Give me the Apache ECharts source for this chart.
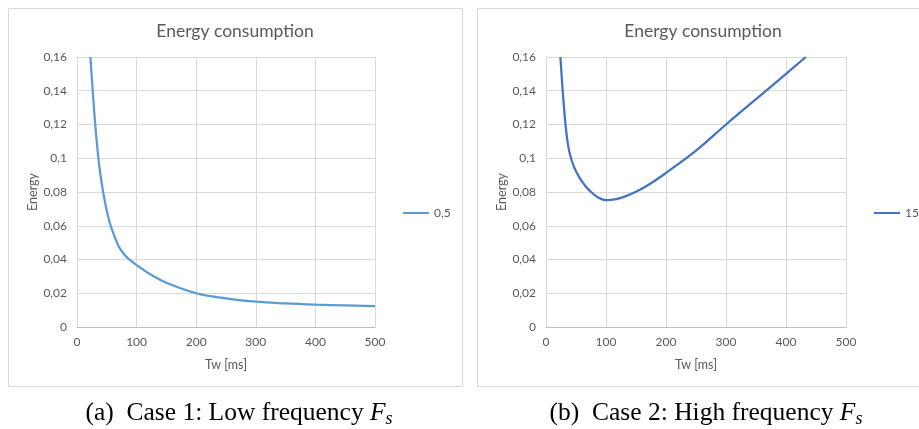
<!DOCTYPE html>
<html>
<head>
<meta charset="utf-8">
<script src="https://cdn.jsdelivr.net/npm/echarts@6/dist/echarts.min.js"></script>
<style>
  html, body { margin: 0; padding: 0; background: #fff; }
  #chart { width: 919px; height: 429px; }
</style>
</head>
<body>
<div id="chart"></div>
<script>
// case 1: low frequency (legend "0,5")
var twLow = [22.5, 25, 28, 31, 34, 37, 40, 44, 48, 52, 56, 62, 69, 77, 86, 100, 125, 150, 200, 250, 300, 350, 400, 450, 500];
var energyLow = [0.160, 0.147, 0.1318, 0.1183, 0.1066, 0.0967, 0.0886, 0.0798, 0.0722, 0.0658, 0.0606, 0.0546, 0.0485, 0.0440, 0.0405, 0.0367, 0.0308, 0.0262, 0.0200, 0.0170, 0.0150, 0.0140, 0.0133, 0.0128, 0.0124];

// case 2: high frequency (legend "15")
var twHigh = [24, 26, 28, 30, 32, 34, 36, 38, 40, 43, 46, 50, 56, 63, 71, 85, 100, 115, 130, 150, 175, 200, 250, 300, 350, 400, 433];
var energyHigh = [0.160, 0.1492, 0.1392, 0.130, 0.1218, 0.115, 0.1096, 0.1054, 0.1022, 0.0985, 0.0955, 0.0923, 0.0884, 0.0848, 0.0814, 0.0772, 0.0752, 0.0756, 0.0771, 0.0801, 0.0852, 0.0913, 0.1045, 0.120, 0.135, 0.150, 0.160];

var seriesNames = ['0,5', '15'];
var chartTitle = 'Energy consumption';
var xName = 'Tw [ms]';
var yName = 'Energy';

var textColor = '#595959';
var gridColor = '#d9d9d9';
var sans = 'Lato, "Open Sans", sans-serif';
var serif = '"Liberation Serif", "DejaVu Serif", serif';

function pairs(xs, ys) {
  return xs.map(function (x, i) { return [x, ys[i]]; });
}

// 0.16 -> "0,16"
function commaFmt(v) {
  return String(+v.toFixed(2)).replace('.', ',');
}

function makeX(gridIndex) {
  return {
    type: 'value', gridIndex: gridIndex,
    min: 0, max: 500, interval: 100,
    name: xName, nameLocation: 'middle', nameGap: 31,
    nameTextStyle: { color: textColor, fontFamily: sans, fontSize: 12.5 },
    axisLine: { show: true, lineStyle: { color: '#bfbfbf', width: 1 } },
    axisTick: { show: false },
    axisLabel: { color: textColor, fontFamily: sans, fontSize: 12, margin: 9 },
    splitLine: { show: true, lineStyle: { color: gridColor, width: 1 } }
  };
}

function makeY(gridIndex) {
  return {
    type: 'value', gridIndex: gridIndex,
    min: 0, max: 0.16, interval: 0.02,
    name: yName, nameLocation: 'middle', nameGap: 35,
    nameTextStyle: { color: textColor, fontFamily: sans, fontSize: 12.5 },
    axisLine: { show: false },
    axisTick: { show: false },
    axisLabel: { color: textColor, fontFamily: sans, fontSize: 12, margin: 10, formatter: commaFmt },
    splitLine: { show: true, lineStyle: { color: gridColor, width: 1 } }
  };
}

function makeLegend(name, left) {
  return {
    data: [name], left: left, top: 207, padding: 0,
    icon: 'rect', itemWidth: 26, itemHeight: 2, itemGap: 4,
    textStyle: { color: textColor, fontFamily: sans, fontSize: 12 }
  };
}

function caption(letter, text, x) {
  return {
    type: 'text', x: x, y: 413,
    style: {
      text: '{n|(' + letter + ')  ' + text + ' }{i|F}{s|s}',
      align: 'center', verticalAlign: 'middle',
      rich: {
        n: { fontFamily: serif, fontSize: 25.5, fill: '#000' },
        i: { fontFamily: serif, fontSize: 25.5, fontStyle: 'italic', fill: '#000' },
        s: { fontFamily: serif, fontSize: 18, fontStyle: 'italic', fill: '#000', padding: [12, 0, 0, 0] }
      }
    }
  };
}

var myChart = echarts.init(document.getElementById('chart'));

var option = {
  backgroundColor: '#fff',
  animation: false,
  grid: [
    { left: 77, top: 57, width: 298, height: 270 },
    { left: 546, top: 57, width: 300, height: 270 }
  ],
  xAxis: [makeX(0), makeX(1)],
  yAxis: [makeY(0), makeY(1)],
  legend: [makeLegend(seriesNames[0], 403), makeLegend(seriesNames[1], 874)],
  graphic: [
    { type: 'rect', shape: { x: 8.5, y: 8.5, width: 454, height: 378 }, style: { fill: 'none', stroke: gridColor, lineWidth: 1 } },
    { type: 'rect', shape: { x: 477.5, y: 8.5, width: 480, height: 378 }, style: { fill: 'none', stroke: gridColor, lineWidth: 1 } },
    { type: 'text', x: 235, y: 31, style: { text: chartTitle, align: 'center', verticalAlign: 'middle', fill: textColor, font: '17.5px ' + sans } },
    { type: 'text', x: 703, y: 31, style: { text: chartTitle, align: 'center', verticalAlign: 'middle', fill: textColor, font: '17.5px ' + sans } },
    caption('a', 'Case 1: Low frequency', 239),
    caption('b', 'Case 2: High frequency', 706)
  ],
  series: [
    {
      name: seriesNames[0], type: 'line', xAxisIndex: 0, yAxisIndex: 0,
      data: pairs(twLow, energyLow),
      smooth: 0.4, showSymbol: false, clip: true,
      color: '#5b9bd5',
      lineStyle: { color: '#5b9bd5', width: 2.25 }
    },
    {
      name: seriesNames[1], type: 'line', xAxisIndex: 1, yAxisIndex: 1,
      data: pairs(twHigh, energyHigh),
      smooth: 0.4, showSymbol: false, clip: true,
      color: '#4472c4',
      lineStyle: { color: '#4472c4', width: 2.25 }
    }
  ]
};

myChart.setOption(option);
window.addEventListener('resize', function () {
  myChart.resize();
});
</script>
</body>
</html>
